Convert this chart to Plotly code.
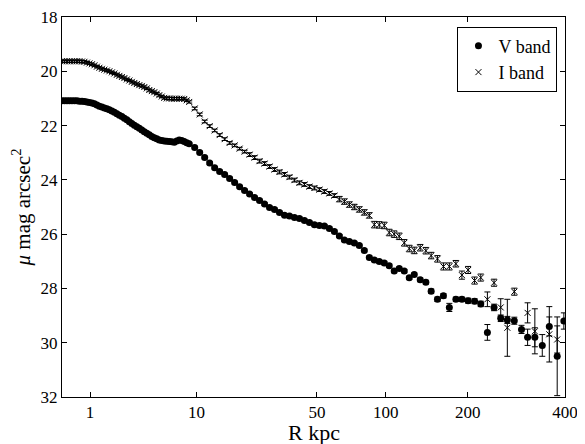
import numpy as np
import plotly.graph_objects as go

# Radius (kpc) shared by both bands
R_kpc = [0.400, 0.438, 0.479, 0.522, 0.568, 0.618, 0.670, 0.725, 0.785, 0.847,
         0.913, 0.984, 1.058, 1.136, 1.218, 1.305, 1.396, 1.493, 1.593, 1.699,
         1.811, 1.927, 2.049, 2.177, 2.311, 2.450, 2.597, 2.749, 2.907, 3.074,
         3.246, 3.426, 3.614, 3.809, 4.011, 4.223, 4.441, 4.668, 4.905, 5.149,
         5.403, 5.667, 5.939, 6.221, 6.514, 6.816, 7.129, 7.453, 7.787, 8.132,
         8.490, 8.858,
         9.713, 10.54, 11.42, 12.35, 13.34, 14.39, 15.50, 16.67, 17.91, 19.21,
         20.58, 22.03, 23.55, 25.15, 26.83, 28.59, 30.44, 32.37, 34.40, 36.51,
         38.73, 41.05, 43.46, 45.99, 48.62, 51.36, 54.22, 57.19, 60.28, 63.50,
         66.85, 70.32, 73.93, 77.68, 81.56, 85.60,
         89.78, 94.11, 98.59, 103.2, 108.0, 113.0, 118.2, 123.5, 129.0, 135.8,
         142.5, 149.0, 157.0, 164.9, 173.0, 182.3, 191.2, 200.7, 211.0, 221.2,
         232.5, 244.3, 256.6, 269.2, 283.0, 297.8, 310.8, 326.8, 343.8, 360.5,
         380.0, 397.0]

mu_V = [21.09, 21.09, 21.09, 21.09, 21.09, 21.09, 21.09, 21.10, 21.10, 21.11,
        21.13, 21.15, 21.17, 21.20, 21.24, 21.29, 21.32, 21.35, 21.38, 21.42,
        21.46, 21.51, 21.56, 21.62, 21.67, 21.73, 21.79, 21.86, 21.92, 21.99,
        22.04, 22.10, 22.16, 22.23, 22.28, 22.34, 22.40, 22.45, 22.49, 22.53,
        22.55, 22.57, 22.58, 22.59, 22.60, 22.61, 22.57, 22.53, 22.55, 22.59,
        22.63, 22.67,
        22.81, 22.99, 23.18, 23.38, 23.55, 23.69, 23.80, 23.95, 24.10, 24.25,
        24.39, 24.52, 24.65, 24.76, 24.89, 25.02, 25.09, 25.20, 25.30, 25.33,
        25.39, 25.42, 25.50, 25.57, 25.65, 25.68, 25.70, 25.79, 25.90, 26.07,
        26.22, 26.27, 26.33, 26.42, 26.60, 26.86,
        26.95, 27.01, 27.06, 27.16, 27.36, 27.27, 27.36, 27.61, 27.49, 27.68,
        27.77, 28.10, 28.40, 28.27, 28.70, 28.40, 28.40, 28.45, 28.47, 28.57,
        29.62, 28.70, 29.10, 29.16, 29.19, 29.51, 29.80, 29.80, 30.10, 29.40,
        30.50, 29.20]

err_V = [0.03, 0.03, 0.03, 0.03, 0.03, 0.03, 0.03, 0.03, 0.03, 0.03,
         0.03, 0.03, 0.03, 0.03, 0.03, 0.03, 0.03, 0.03, 0.03, 0.03,
         0.03, 0.03, 0.03, 0.03, 0.03, 0.03, 0.03, 0.03, 0.03, 0.03,
         0.03, 0.03, 0.03, 0.03, 0.03, 0.03, 0.03, 0.03, 0.03, 0.03,
         0.03, 0.03, 0.03, 0.03, 0.03, 0.03, 0.03, 0.03, 0.03, 0.03,
         0.03, 0.03,
         0.05, 0.05, 0.05, 0.05, 0.05, 0.05, 0.05, 0.05, 0.05, 0.05,
         0.05, 0.05, 0.05, 0.05, 0.05, 0.05, 0.05, 0.05, 0.05, 0.05,
         0.05, 0.05, 0.05, 0.05, 0.05, 0.05, 0.05, 0.05, 0.05, 0.05,
         0.05, 0.05, 0.05, 0.05, 0.05, 0.05,
         0.06, 0.06, 0.06, 0.06, 0.06, 0.06, 0.06, 0.06, 0.06, 0.07,
         0.07, 0.08, 0.08, 0.08, 0.15, 0.08, 0.08, 0.09, 0.09, 0.10,
         0.29, 0.12, 0.12, 0.13, 0.13, 0.15, 0.30, 0.35, 0.40, 0.35,
         1.45, 0.30]

mu_I = [19.63, 19.63, 19.63, 19.63, 19.63, 19.63, 19.63, 19.63, 19.64, 19.65,
        19.68, 19.71, 19.74, 19.78, 19.83, 19.87, 19.91, 19.94, 19.97, 20.00,
        20.04, 20.08, 20.13, 20.17, 20.21, 20.25, 20.30, 20.34, 20.39, 20.43,
        20.47, 20.51, 20.54, 20.58, 20.63, 20.69, 20.73, 20.77, 20.82, 20.88,
        20.93, 20.98, 21.00, 21.00, 21.01, 21.01, 21.01, 21.01, 21.01, 21.02,
        21.07, 21.13,
        21.37, 21.59, 21.85, 22.02, 22.18, 22.35, 22.50, 22.64, 22.73, 22.85,
        22.96, 23.07, 23.18, 23.31, 23.40, 23.51, 23.62, 23.71, 23.80, 23.90,
        24.01, 24.11, 24.17, 24.25, 24.30, 24.36, 24.43, 24.50, 24.58, 24.71,
        24.80, 24.91, 25.00, 25.09, 25.20, 25.31,
        25.65, 25.66, 25.68, 25.94, 26.00, 26.08, 26.32, 26.53, 26.60, 26.50,
        26.61, 26.79, 26.91, 27.19, 27.19, 27.09, 27.51, 27.32, 27.71, 27.60,
        28.40, 27.79, 28.70, 29.45, 28.12, None, 28.90, 29.58, None, 29.69,
        29.88, None]

err_I = [0.04, 0.04, 0.04, 0.04, 0.04, 0.04, 0.04, 0.04, 0.04, 0.04,
         0.04, 0.04, 0.04, 0.04, 0.04, 0.04, 0.04, 0.04, 0.04, 0.04,
         0.04, 0.04, 0.04, 0.04, 0.04, 0.04, 0.04, 0.04, 0.04, 0.04,
         0.04, 0.04, 0.04, 0.04, 0.04, 0.04, 0.04, 0.04, 0.04, 0.04,
         0.04, 0.04, 0.04, 0.04, 0.04, 0.04, 0.04, 0.04, 0.04, 0.04,
         0.04, 0.04,
         0.05, 0.05, 0.05, 0.05, 0.05, 0.05, 0.05, 0.05, 0.05, 0.05,
         0.05, 0.07, 0.07, 0.07, 0.07, 0.07, 0.07, 0.07, 0.07, 0.07,
         0.07, 0.07, 0.07, 0.07, 0.07, 0.07, 0.07, 0.07, 0.07, 0.10,
         0.10, 0.10, 0.10, 0.10, 0.10, 0.10,
         0.12, 0.12, 0.12, 0.12, 0.12, 0.12, 0.12, 0.12, 0.12, 0.12,
         0.12, 0.12, 0.12, 0.13, 0.13, 0.12, 0.15, 0.13, 0.13, 0.13,
         0.27, 0.13, 0.32, 1.05, 0.13, 0.0, 0.37, 0.83, 0.0, 1.02,
         0.50, 0.0]

x_tick_vals = [1, 10, 50, 100, 200, 400]
x_tick_text = ["1", "10", "50", "100", "200", "400"]
y_tick_vals = [18, 20, 22, 24, 26, 28, 30, 32]

# R^(1/4) scaled abscissa
x = np.array(R_kpc) ** 0.25

font_family = "Liberation Serif, Times New Roman, serif"

fig = go.Figure()
fig.add_trace(go.Scatter(
    x=x, y=mu_V, mode="markers", name="V band",
    marker=dict(symbol="circle", size=7, color="black"),
    error_y=dict(type="data", array=err_V, color="black", thickness=1, width=3),
))
fig.add_trace(go.Scatter(
    x=x, y=mu_I, mode="markers", name="I band",
    marker=dict(symbol="x-thin", size=6, color="black",
                line=dict(width=1, color="black")),
    error_y=dict(type="data", array=err_I, color="black", thickness=1, width=3),
))

# the page body adds an 8px offset; size and margins compensate for it
fig.update_layout(
    width=577, height=436,
    margin=dict(l=54, r=20, t=9, b=47, autoexpand=False),
    paper_bgcolor="white", plot_bgcolor="white",
    font=dict(family=font_family, size=17, color="black"),
    showlegend=True,
    legend=dict(x=0.985, y=0.975, xanchor="right", yanchor="top",
                bgcolor="white", bordercolor="black", borderwidth=1,
                font=dict(size=18), tracegroupgap=0),
    annotations=[dict(text="R kpc", xref="paper", yref="paper",
                      x=0.5, y=-0.093, xanchor="center", yanchor="middle",
                      showarrow=False, font=dict(size=22))],
)
fig.update_xaxes(
    range=[0.4 ** 0.25, 400 ** 0.25],
    tickmode="array",
    tickvals=[v ** 0.25 for v in x_tick_vals],
    ticktext=x_tick_text,
    ticks="inside", ticklen=5, tickcolor="black",
    showline=True, linecolor="black", linewidth=1, mirror="ticks",
    showgrid=False, zeroline=False, automargin=False,
    ticklabeloverflow="allow",
)
fig.update_yaxes(
    range=[32, 18],
    tickmode="array", tickvals=y_tick_vals,
    ticks="inside", ticklen=5, tickcolor="black",
    showline=True, linecolor="black", linewidth=1, mirror="ticks",
    showgrid=False, zeroline=False, automargin=False,
    ticklabeloverflow="allow",
    title=dict(text="<i>μ</i> mag arcsec<sup>2</sup>", font=dict(size=21), standoff=6),
)

fig.write_html("out.html")
